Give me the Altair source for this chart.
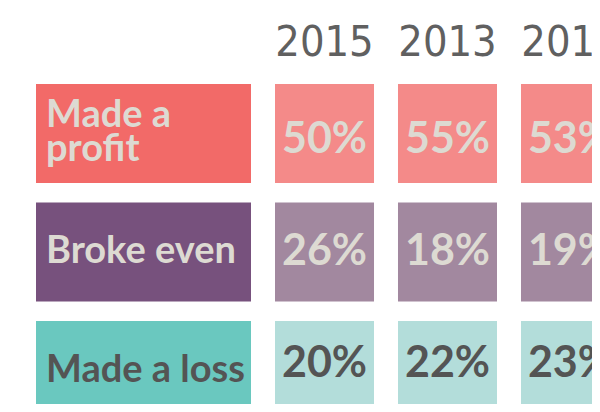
import altair as alt
import pandas as pd

categories = ["Made a profit", "Broke even", "Made a loss"]
label_lines = [["Made a", "profit"], ["Broke even"], ["Made a loss"]]
years = ["2015", "2013", "2011"]
made_profit = [50, 55, 53]
broke_even = [26, 18, 19]
made_loss = [20, 22, 23]

label_fill = ["#F26A68", "#77517D", "#6AC8BF"]
value_fill = ["#F48A89", "#A2889F", "#B3DDDA"]
text_col = ["#DDDAD2", "#DDDAD2", "#545454"]

rows = []
for cat, vals in zip(categories, [made_profit, broke_even, made_loss]):
    for yr, v in zip(years, vals):
        rows.append({"category": cat, "year": yr, "pct": f"{v}%"})
df = pd.DataFrame(rows)

lab_rows = []
for cat, lines in zip(categories, label_lines):
    slots = ["mid"] if len(lines) == 1 else ["l1", "l2"]
    for slot, line in zip(slots, lines):
        lab_rows.append({"category": cat, "text": line, "slot": slot, "col": "label"})
lab = pd.DataFrame(lab_rows)
boxes = pd.DataFrame({"category": categories, "col": ["label"] * len(categories)})
hdr = pd.DataFrame({"year": years, "hdr": ["header"] * len(years)})

hand = "Lato"
year_font = "Liberation Sans Narrow, DejaVu Sans Condensed, sans-serif"

# the rows run past the visible bottom edge, as in the cropped original
yenc = alt.Y("category:N", sort=categories, axis=None,
             scale=alt.Scale(paddingInner=0.165, paddingOuter=0, range=[76, 412]))

# left column: category label boxes
left_scale = alt.Scale(paddingInner=0, paddingOuter=0)
left_rect = alt.Chart(boxes).mark_rect(clip=True).encode(
    x=alt.X("col:N", scale=left_scale, axis=None),
    y=yenc,
    color=alt.Color("category:N", scale=alt.Scale(domain=categories, range=label_fill), legend=None),
)


def label_layer(slot, shift):
    return alt.Chart(lab).transform_filter(alt.datum.slot == slot).mark_text(
        align="left", baseline="middle", dx=10, dy=shift, font=hand, fontSize=38,
        fontWeight="bold", clip=True,
    ).encode(
        x=alt.X("col:N", bandPosition=0, scale=left_scale, axis=None),
        y=yenc,
        text="text:N",
        color=alt.Color("category:N", scale=alt.Scale(domain=categories, range=text_col), legend=None),
    )


left = alt.layer(
    left_rect, label_layer("mid", 0), label_layer("l1", -17), label_layer("l2", 17)
).resolve_scale(color="independent").properties(width=215, height=396)

# value columns run past the visible right edge, as in the cropped original
xr = alt.X("year:N", sort=years, axis=None,
           scale=alt.Scale(paddingInner=0.195, paddingOuter=0, range=[0, 345]))

right_rect = alt.Chart(df).mark_rect(clip=True).encode(
    x=xr, y=yenc,
    color=alt.Color("category:N", scale=alt.Scale(domain=categories, range=value_fill), legend=None),
)
right_text = alt.Chart(df).mark_text(font=hand, fontSize=43, fontWeight="bold",
                                     baseline="middle", clip=True).encode(
    x=xr, y=yenc, text="pct:N",
    color=alt.Color("category:N", scale=alt.Scale(domain=categories, range=text_col), legend=None),
)
year_text = alt.Chart(hdr).mark_text(font=year_font, fontSize=43, color="#606060",
                                     baseline="middle", clip=True).encode(
    x=xr,
    y=alt.Y("hdr:N", axis=None, scale=alt.Scale(paddingInner=0, paddingOuter=0, range=[0, 70])),
    text="year:N",
)
right = alt.layer(right_rect, right_text, year_text).resolve_scale(
    color="independent", y="independent").properties(width=317, height=396)

chart = alt.hconcat(left, right, spacing=24).properties(
    padding={"left": 28, "top": 0, "right": 0, "bottom": 0},
    background="white",
).configure_view(stroke=None)

chart.save("out.html", embed_options={"renderer": "svg", "actions": False})
